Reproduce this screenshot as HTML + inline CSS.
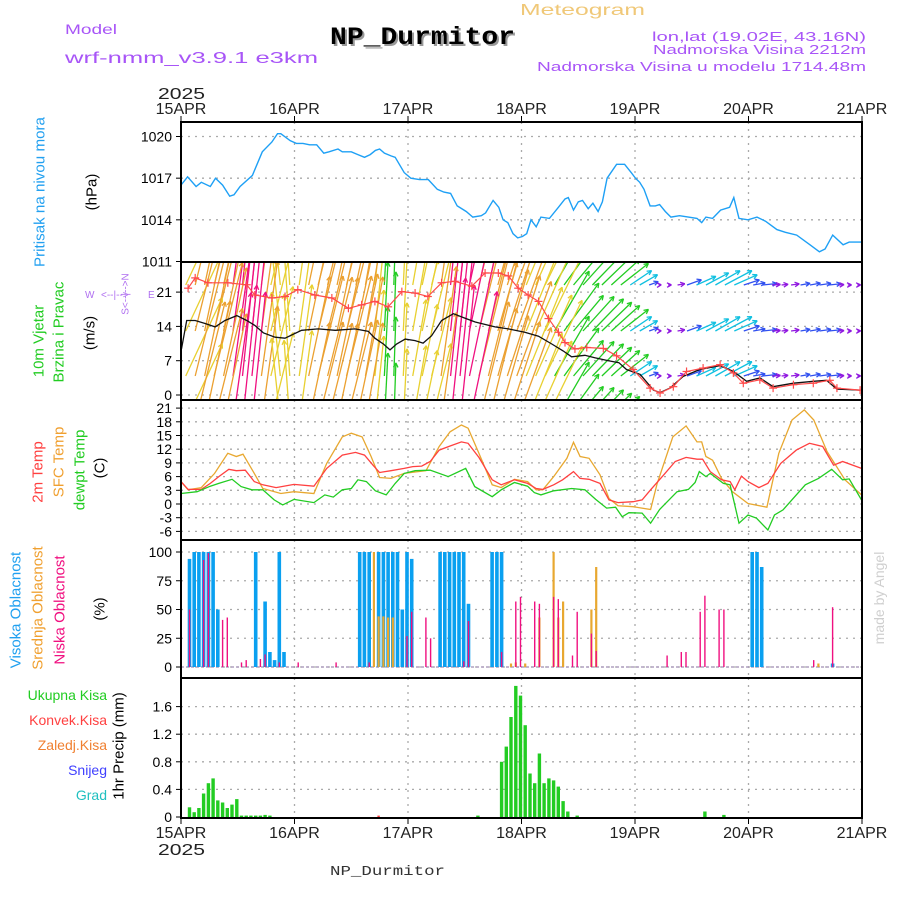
<!DOCTYPE html>
<html><head><meta charset="utf-8"><style>
html,body{margin:0;padding:0;background:#fff;}
svg{display:block;font-family:"Liberation Sans",sans-serif;}
</style></head><body>
<svg id="chart" width="900" height="900" viewBox="0 0 900 900" xmlns="http://www.w3.org/2000/svg">
<defs>
<clipPath id="c1"><rect x="181" y="122" width="681" height="140"/></clipPath>
<clipPath id="c2"><rect x="181" y="262" width="681" height="138"/></clipPath>
<clipPath id="c3"><rect x="181" y="400" width="681" height="140"/></clipPath>
<clipPath id="c4"><rect x="181" y="540" width="681" height="138"/></clipPath>
<clipPath id="c5"><rect x="181" y="678" width="681" height="140"/></clipPath>
</defs>
<!-- header -->
<text x="520" y="15" fill="#f0c878" font-size="16" textLength="125" lengthAdjust="spacingAndGlyphs">Meteogram</text>
<text x="65" y="34" fill="#a855f7" font-size="14" textLength="52" lengthAdjust="spacingAndGlyphs">Model</text>
<text x="65" y="63" fill="#a855f7" font-size="16" textLength="253" lengthAdjust="spacingAndGlyphs">wrf-nmm_v3.9.1 e3km</text>
<text x="332" y="46" fill="#999" font-family="Liberation Mono,monospace" font-weight="bold" font-size="25" textLength="185" lengthAdjust="spacingAndGlyphs">NP_Durmitor</text>
<text x="330" y="44" fill="#000" font-family="Liberation Mono,monospace" font-weight="bold" font-size="25" textLength="185" lengthAdjust="spacingAndGlyphs">NP_Durmitor</text>
<text x="652" y="41" fill="#a855f7" font-size="13" textLength="214" lengthAdjust="spacingAndGlyphs">lon,lat (19.02E, 43.16N)</text>
<text x="653" y="54" fill="#a855f7" font-size="13" textLength="213" lengthAdjust="spacingAndGlyphs">Nadmorska Visina 2212m</text>
<text x="537" y="71" fill="#a855f7" font-size="13" textLength="329" lengthAdjust="spacingAndGlyphs">Nadmorska Visina u modelu 1714.48m</text>
<text x="158" y="99" fill="#222" font-size="16" textLength="47" lengthAdjust="spacingAndGlyphs">2025</text>
<text x="158" y="855" fill="#222" font-size="16" textLength="47" lengthAdjust="spacingAndGlyphs">2025</text>
<text x="330" y="875" fill="#333" font-family="Liberation Mono,monospace" font-size="14" textLength="115" lengthAdjust="spacingAndGlyphs">NP_Durmitor</text>
<text transform="translate(884,598) rotate(-90)" text-anchor="middle" fill="#cfcfcf" font-size="14">made by Angel</text>

<!-- axis titles -->
<g font-size="15">
<text transform="translate(40,192) rotate(-90)" text-anchor="middle" dominant-baseline="central" fill="#22a0f0" textLength="150" lengthAdjust="spacingAndGlyphs">Pritisak na nivou mora</text>
<text transform="translate(92,192) rotate(-90)" text-anchor="middle" dominant-baseline="central" fill="#000">(hPa)</text>
<text transform="translate(39,341) rotate(-90)" text-anchor="middle" dominant-baseline="central" fill="#22cc22">10m Vjetar</text>
<text transform="translate(59,332) rotate(-90)" text-anchor="middle" dominant-baseline="central" fill="#22cc22">Brzina i Pravac</text>
<text transform="translate(90,333) rotate(-90)" text-anchor="middle" dominant-baseline="central" fill="#000">(m/s)</text>
<text transform="translate(38,472) rotate(-90)" text-anchor="middle" dominant-baseline="central" fill="#ff4040">2m Temp</text>
<text transform="translate(59,462) rotate(-90)" text-anchor="middle" dominant-baseline="central" fill="#f0a030">SFC Temp</text>
<text transform="translate(80,470) rotate(-90)" text-anchor="middle" dominant-baseline="central" fill="#22cc22">dewpt Temp</text>
<text transform="translate(100,468) rotate(-90)" text-anchor="middle" dominant-baseline="central" fill="#000">(C)</text>
<text transform="translate(16,610) rotate(-90)" text-anchor="middle" dominant-baseline="central" fill="#20a0f0">Visoka Oblacnost</text>
<text transform="translate(38,608) rotate(-90)" text-anchor="middle" dominant-baseline="central" fill="#f0a030">Srednja Oblacnost</text>
<text transform="translate(60,610) rotate(-90)" text-anchor="middle" dominant-baseline="central" fill="#f01080">Niska Oblacnost</text>
<text transform="translate(100,609) rotate(-90)" text-anchor="middle" dominant-baseline="central" fill="#000">(%)</text>
<text transform="translate(119,746) rotate(-90)" text-anchor="middle" dominant-baseline="central" fill="#000">1hr Precip (mm)</text>
</g>
<g font-size="14" text-anchor="end">
<text x="107" y="700" fill="#22cc22">Ukupna Kisa</text>
<text x="107" y="725" fill="#ff4040">Konvek.Kisa</text>
<text x="107" y="750" fill="#f08030">Zaledj.Kisa</text>
<text x="107" y="775" fill="#4040ff">Snijeg</text>
<text x="107" y="800" fill="#20c0c0">Grad</text>
</g>
<g fill="#b070f0" font-size="10">
<text x="85" y="298">W</text>
<text x="101" y="298">&lt;--|--&gt;</text>
<text x="148" y="298">E</text>
<text transform="translate(126,294) rotate(-90)" text-anchor="middle" dominant-baseline="central">S&lt;--|--&gt;N</text>
</g>
<g id="plot"></g>
</svg>
<script>
// ---------- data ----------
const dayLabels = ["15APR","16APR","17APR","18APR","19APR","20APR","21APR"];
const pressTicks = [1020,1017,1014,1011];
const windTicks = [21,14,7,0];
const tempTicks = [21,18,15,12,9,6,3,0,-3,-6];
const cloudTicks = [100,75,50,25,0];
const precipTicks = [1.6,1.2,0.8,0.4,0];

const pressHours = [0,1.4,3.2,4.3,6.2,7.3,8.8,10.3,11.2,12.5,15.1,17.2,19.2,20.4,21.1,23.1,24.4,25.8,27.2,28.7,30.2,31.3,33.2,34.1,36,37.4,38.8,40,41.1,42,43,44.4,45.3,47.2,48.6,50.4,52.3,54.2,55.6,57,58.4,60.3,61.7,63.5,64.4,66,67.2,68.1,69.1,70.2,71.2,72.2,73.1,74,75.1,76.1,77.9,79.8,81.2,81.9,83,84,84.9,86.1,87.1,88.2,89.1,90.1,92.1,93.8,95.2,96.1,97,97.9,99.2,100.3,101.2,102.4,103.6,105.4,107.3,109.1,110.1,111,112.4,114.1,116,116.9,118,119.9,121.8,123.6,126,127.8,130.2,133,135,136.2,137.8,140,141.3,144];
const pressVals = [1016.5,1017.1,1016.4,1016.7,1016.4,1017.0,1016.5,1015.7,1015.8,1016.4,1017.2,1018.9,1019.6,1020.2,1020.2,1019.7,1019.5,1019.5,1019.4,1019.4,1018.8,1018.9,1019.1,1018.9,1018.9,1018.7,1018.5,1018.7,1019.0,1019.1,1018.8,1018.6,1018.5,1017.4,1017.0,1016.9,1016.9,1016.2,1016.0,1015.9,1015.0,1014.6,1014.2,1014.3,1014.5,1015.4,1014.9,1014.0,1013.8,1013.0,1012.7,1012.8,1013.0,1014.0,1013.5,1014.2,1014.1,1014.9,1015.5,1015.6,1014.7,1015.3,1015.4,1014.8,1015.2,1014.6,1015.3,1017.0,1018.0,1018.0,1017.4,1017.0,1016.7,1016.2,1015.0,1015.0,1015.1,1014.6,1014.2,1014.3,1014.2,1014.1,1013.8,1014.2,1014.1,1014.7,1014.9,1015.6,1014.1,1014.0,1014.2,1013.9,1013.3,1013.1,1012.9,1012.2,1011.7,1011.9,1012.9,1012.2,1012.4,1012.4];

const speedHours = [0.1,1.2,3,5.1,7.2,9.3,11.8,13.9,15.6,17.4,19.9,22,25.5,29,32.6,36.8,39.6,41,42.8,44.2,45.6,47.4,49.5,51.2,53,55.1,57.6,60,62.2,66.4,69.2,72.7,75.6,78.4,80.8,82.6,85.4,87.5,90.4,92.6,94.2,97.1,99.9,101.3,103.4,106.2,109.7,114,116.8,119.6,122.4,125.2,129.5,133.7,136.5,138.7,143.6];
const speedVals = [9.4,15.2,15.2,14.6,13.9,15.2,16.2,15.2,14.2,12.7,11.8,11.6,13.2,13.5,13.2,13.5,13.0,11.6,10.4,9.2,10.4,11.4,11.1,10.6,12.1,15.2,16.6,15.7,14.9,13.9,13.5,12.8,12.0,10.4,9.0,7.8,8.1,7.6,7.0,6.6,5.2,4.2,1.0,0.5,1.4,3.8,5.2,6.0,4.8,2.8,3.5,1.7,2.4,2.8,3.0,1.2,1.0];

const gustHours = [1.5,3,5.7,9.9,13.9,15.6,19.2,22,24.7,28.3,31.9,35.4,38.2,41,43.8,46.7,49.5,52.2,55.1,57.9,61.5,64.3,67.1,69.2,71.3,73.4,75.6,77.7,79.8,81.2,83.3,85.8,89.3,92.1,95.6,99.2,101.3,104.1,106.9,110.4,114,116.8,118.9,122.4,125.2,129.5,133.7,137.2,138.7,143.6];
const gustVals = [21.8,23.9,22.9,22.9,22.5,20.4,19.8,20.1,21.5,20.4,19.8,17.7,18.4,19.1,18.0,21.1,20.8,20.1,22.9,23.2,22.2,24.9,24.9,24.3,21.8,20.4,19.1,15.6,12.8,10.7,9.4,9.7,9.5,8.0,5.2,1.4,0.4,1.7,4.8,5.5,6.2,4.5,2.4,3.1,1.4,2.1,2.4,3.0,1.4,1.0];

// wind arrows every 2 hours
const arrowSpd = [12,15,15,14.5,14,15.5,16,15.5,14.5,12.5,11.8,11.6,12.5,13.3,13.4,13.3,13.2,13.4,13.5,13.2,12,10.4,9.4,10.8,11.2,10.8,11.5,14,16.5,16,15.7,15,14.5,14,13.6,13.2,12.8,12.2,11.8,10.4,9.4,8,8,7.8,7.4,7,6.6,5.3,4.5,2.5,0.8,1,2,3.6,4.6,5.3,5.7,6,5.2,3.8,3,3.4,2.2,1.8,2.2,2.5,2.7,2.9,3,1.6,1.1,1.0];
const arrowDir = [25,14,12,14,12,8,6,6,8,14,-6,-4,8,12,14,14,12,14,12,10,6,3,2,3,10,12,14,8,6,6,12,14,14,16,18,20,22,24,26,30,36,40,42,44,46,48,52,56,60,70,85,88,80,70,66,62,60,62,66,72,80,84,86,84,82,80,80,82,84,86,88,88];

const t2Hours = [0,1.5,4.3,6.2,8,10.1,11.7,13.6,15.5,17.3,20.1,23.9,28.1,30.8,34.1,36.9,38.8,40.6,42,44.4,47.2,49,50.9,52.7,54.6,56.9,59.3,60.7,63,65.8,67.7,70.5,73.3,75.1,76.5,78.8,80.7,83,84.4,86.3,88.6,90.5,92.4,95.6,97.5,99.3,102.1,104.5,106.8,109.1,110.3,111.9,114.3,116.1,117.1,118.5,119.9,122.2,124.1,126.8,130.1,132.9,135.7,138,139.9,143.9];
const t2Vals = [4.9,3.2,3.2,4.5,6,7.6,7.3,7.4,4.9,4.2,3.6,4.3,3.9,7.8,10.7,11.3,10.7,8.5,6.9,7.3,7.8,8.2,8.3,9.3,11.8,12.7,13.6,13.3,10.2,5.3,4.2,5.3,4.5,3.4,3.2,4.2,5.3,7.1,5.6,5.4,4.5,0.9,0.3,0.5,0.9,3.1,6.4,9.3,10.2,9.8,9.8,7.1,5.3,4.9,3.1,6.1,4.9,3.6,4.5,8.9,11.8,13.3,12.6,8.5,9.3,7.8];
const sfcHours = [0,1.5,4.3,7.1,9.9,11.7,13.1,15.5,17.3,21.1,23.9,28.1,30.8,34.1,36,38.3,40.2,42,44.4,47.2,51.8,54.6,56.9,59.3,60.7,63,65.8,67.7,70.5,73.3,75.1,76.5,78.8,81.6,83,84.4,86.3,88.6,90.5,92.4,95.6,99.3,100.7,104,106.8,109.1,110.1,111,112.4,114.3,116.6,119.9,123.9,126.4,129.2,131.8,133.8,136.6,140.4,143.9];
const sfcVals = [4.9,3.1,3.6,6.7,11.1,10.4,10.9,6.7,3.4,2.3,2.7,2.3,8.9,14.7,15.5,14.7,10.4,5.8,5.6,6.7,7.3,12.6,15.8,17.3,16.6,11.1,4.2,3.6,5.4,4.9,3.1,3.1,6.0,10.0,13.5,10.4,10.0,6.4,1.2,-0.4,-0.6,-1.2,4.5,14.7,17.1,13.6,13.6,10.4,9.6,5.6,2.7,0.1,-0.7,11.1,18.4,20.6,18.4,11.5,5.3,2.0];
const dewHours = [0,3.4,6.2,8,10.8,12.7,15,17.3,19.7,21.5,23.9,28.1,30.4,32.2,34.1,36,37.4,39.2,41.1,43.4,45.3,47.2,49.5,52.7,56.5,60.2,62.1,65.8,67.7,70.5,73.3,74.7,76.1,78.8,82.6,85.4,87.7,90,91.9,93.3,94.7,97.5,99.3,101.2,104.9,107.3,108.7,109.6,111,111.9,114.7,116.1,118,119.9,121.7,124.1,125.5,127.3,132,134.8,137.6,139.9,141.3,143.9];
const dewVals = [2.3,2.7,3.9,4.5,5.4,3.8,3.1,3.1,0.9,-0.2,1.0,0.3,2.0,1.5,3.1,3.4,5.3,4.9,2.9,2.0,4.5,6.7,7.3,7.4,6.0,7.8,3.8,1.6,3.1,4.7,3.9,2.5,2.0,2.9,3.4,3.1,1.0,-0.9,-0.7,-2.8,-1.9,-2.0,-4.2,-1.2,2.7,3.2,4.7,7.1,6.0,6.7,4.5,4.2,-4.2,-2.4,-3.1,-5.7,-2.4,-1.3,4.2,5.6,7.6,5.3,5.5,0.9];

const highHours = [2,3,4,5,6,7,8,16,18,19,20,21,22,38,39,40,42,43,44,45,46,47,48,49,55,56,57,58,59,60,61,66,67,68,121,122,123,138];
const highVals = [94,100,100,100,100,100,50,100,57,13,6,100,13,100,100,100,100,100,100,100,100,50,100,94,100,100,100,100,100,100,55,100,100,100,100,100,87,3];
const midHours = [41,42,43,44,45,70,71,73,76,79,80,81,87,88,135];
const midVals = [100,44,44,43,43,3,4,3,43,100,43,57,50,87,3];
const lowHours = [2,5,6,9,10,13,14,17,18,21,25,33,40,48,49,52,53,60,61,68,71,72,75,76,79,80,83,84,87,88,103,106,107,110,111,114,115,134,138];
const lowVals = [50,93,99,41,43,4,6,7,11,4,4,4,4,27,48,43,25,5,40,13,57,61,57,55,61,59,10,48,29,14,10,13,13,48,62,50,50,6,52];

const precipHours = [2,3,4,5,6,7,8,9,10,11,12,13,14,15,16,17,18,19,63,68,69,70,71,72,73,74,75,76,77,78,79,80,81,82,84,111,115];
const precipVals = [0.14,0.07,0.13,0.34,0.49,0.56,0.24,0.21,0.13,0.18,0.26,0.02,0.02,0.02,0.02,0.02,0.03,0.02,0.02,0.80,1.02,1.45,1.9,1.76,1.33,0.63,0.49,0.92,0.49,0.56,0.53,0.44,0.23,0.08,0.02,0.08,0.03];
const convHours = [42];
const convVals = [0.02];

// ---------- scales ----------
const X0 = 181, X1 = 862;
const X = h => X0 + h * (X1 - X0) / 144;
const Yp = v => 136.5 + (1020 - v) * (125 / 9);
const Yw = v => 395 - v * 4.9;
const Yt = v => 504 - v * 4.567;
const Yc = v => 667 - v * 1.15;
const Yr = v => 817 - v * 69;

const NS = "http://www.w3.org/2000/svg";
const plot = document.getElementById("plot");
function mk(tag, attrs, parent) {
  const e = document.createElementNS(NS, tag);
  for (const k in attrs) e.setAttribute(k, attrs[k]);
  (parent || plot).appendChild(e);
  return e;
}
const panels = [
  {top:122, bot:262, ticks:pressTicks, y:Yp, clip:"c1", name:"pressure"},
  {top:262, bot:400, ticks:windTicks, y:Yw, clip:"c2", name:"wind"},
  {top:400, bot:540, ticks:tempTicks, y:Yt, clip:"c3", name:"temperature"},
  {top:540, bot:678, ticks:cloudTicks, y:Yc, clip:"c4", name:"cloud"},
  {top:678, bot:818, ticks:precipTicks, y:Yr, clip:"c5", name:"precip"}
];
// grids
panels.forEach(p => {
  const g = mk("g", {});
  
  
  for (let d = 1; d < 6; d++) {
    const x = X(d * 24);
    mk("line", {x1:x, x2:x, y1:p.top, y2:p.bot, stroke:"#aaa", "stroke-width":1.3, "stroke-dasharray":"2,5"}, g);
  }
  p.ticks.forEach(t => {
    const y = p.y(t);
    if (y > p.top + 2 && y < p.bot - 2)
      mk("line", {x1:X0, x2:X1, y1:y, y2:y, stroke:"#aaa", "stroke-width":1.3, "stroke-dasharray":"2,5"}, g);
    mk("line", {x1:X0 - 5, x2:X0, y1:y, y2:y, stroke:"#000", "stroke-width":1}, g);
    const tx = mk("text", {x:172, y:y + 5, "text-anchor":"end", "font-size":14, fill:"#000"}, g);
    tx.textContent = String(t);
    
    
  });
});
function poly(hours, vals, yf, color, name, clip, w) {
  const pts = hours.map((h, i) => X(h).toFixed(1) + "," + yf(vals[i]).toFixed(1)).join(" ");
  const e = mk("polyline", {points:pts, fill:"none", stroke:color, "stroke-width":w || 1.3, "clip-path":"url(#" + clip + ")"});
  
  
  return e;
}
// pressure
poly(pressHours, pressVals, Yp, "#1ea0f5", "pressure-line", "c1", 1.4);

// wind arrows
function windColor(s) {
  if (s < 2.5) return "#9018e0";
  if (s < 4.5) return "#3050f0";
  if (s < 6.5) return "#10c0e0";
  if (s < 10.5) return "#22cc22";
  if (s < 13) return "#e8d030";
  if (s < 15.5) return "#eba030";
  return "#f01080";
}
const arrowG = mk("g", {"clip-path":"url(#c2)"});


const bases = [285, 331, 376, 422];
bases.forEach(by => {
  arrowSpd.forEach((s, i) => {
    const x = X(i * 2 + 1);
    const L = s * s * 0.35 + 3 * s;
    const a = arrowDir[i] * Math.PI / 180;
    const dx = Math.sin(a) * L, dy = -Math.cos(a) * L;
    const x2 = x + dx, y2 = by + dy;
    const col = windColor(s);
    const ar = mk("g", {stroke:col, "stroke-width":1.3, fill:"none"}, arrowG);
    
    
    mk("line", {x1:x, y1:by, x2:x2, y2:y2}, ar);
    const hl = 5;
    [2.6, -2.6].forEach(off => {
      const b = a + Math.PI + off * 0.18;
      mk("line", {x1:x2, y1:y2, x2:x2 + Math.sin(b) * hl, y2:y2 - Math.cos(b) * hl}, ar);
    });
  });
});
poly(speedHours, speedVals, Yw, "#111", "wind-speed-line", "c2", 1.3);
poly(gustHours, gustVals, Yw, "#ff4a4a", "wind-gust-line", "c2", 1.2);
const gustG = mk("g", {stroke:"#ff4a4a", "stroke-width":1.2, "clip-path":"url(#c2)"});


gustHours.forEach((h, i) => {
  const x = X(h), y = Yw(gustVals[i]);
  mk("line", {x1:x - 4, x2:x + 4, y1:y, y2:y}, gustG);
  mk("line", {x1:x, x2:x, y1:y - 4, y2:y + 4}, gustG);
});

// temperature
poly(sfcHours, sfcVals, Yt, "#e8a830", "sfc-temp-line", "c3", 1.3);
poly(t2Hours, t2Vals, Yt, "#ff4040", "temp-2m-line", "c3", 1.3);
poly(dewHours, dewVals, Yt, "#22cc22", "dewpoint-line", "c3", 1.3);

// clouds
mk("line", {x1:X0, x2:X1, y1:667, y2:667, stroke:"#b0a0c0", "stroke-width":1.5, "stroke-dasharray":"3,2"});
function bars(hours, vals, yf, base, w, color, name) {
  const g = mk("g", {fill:color, "clip-path":"url(#" + (base === 667 ? "c4" : "c5") + ")"});
  
  
  hours.forEach((h, i) => {
    const y = yf(vals[i]);
    const r = mk("rect", {x:(X(h) - w / 2 - 1).toFixed(1), y:y.toFixed(1), width:w, height:Math.max(0.5, base - y).toFixed(1)}, g);
    
    
  });
}
bars(highHours, highVals, Yc, 667, 3.6, "#0aa0f0", "high-cloud");
bars(midHours, midVals, Yc, 667, 2.2, "#e8a830", "mid-cloud");
bars(lowHours, lowVals, Yc, 667, 1.4, "#f01080", "low-cloud");

// precip
bars(precipHours, precipVals, Yr, 817, 3.4, "#22cc22", "total-precip");
bars(convHours, convVals, Yr, 817, 2.4, "#ff4040", "convective-precip");

// frames
panels.forEach(p => {
  const r = mk("rect", {x:X0, y:p.top, width:X1 - X0, height:p.bot - p.top, fill:"none", stroke:"#000", "stroke-width":2});
  
  
});
// day labels
dayLabels.forEach((d, i) => {
  const x = X(i * 24);
  [114, 838].forEach(y => {
    const t = mk("text", {x:x, y:y, "text-anchor":"middle", "font-size":16, fill:"#222"});
    t.textContent = d;
    
    
  });
  mk("line", {x1:x, x2:x, y1:116, y2:122, stroke:"#000"});
  mk("line", {x1:x, x2:x, y1:818, y2:824, stroke:"#000"});
});
</script>
</body></html>
